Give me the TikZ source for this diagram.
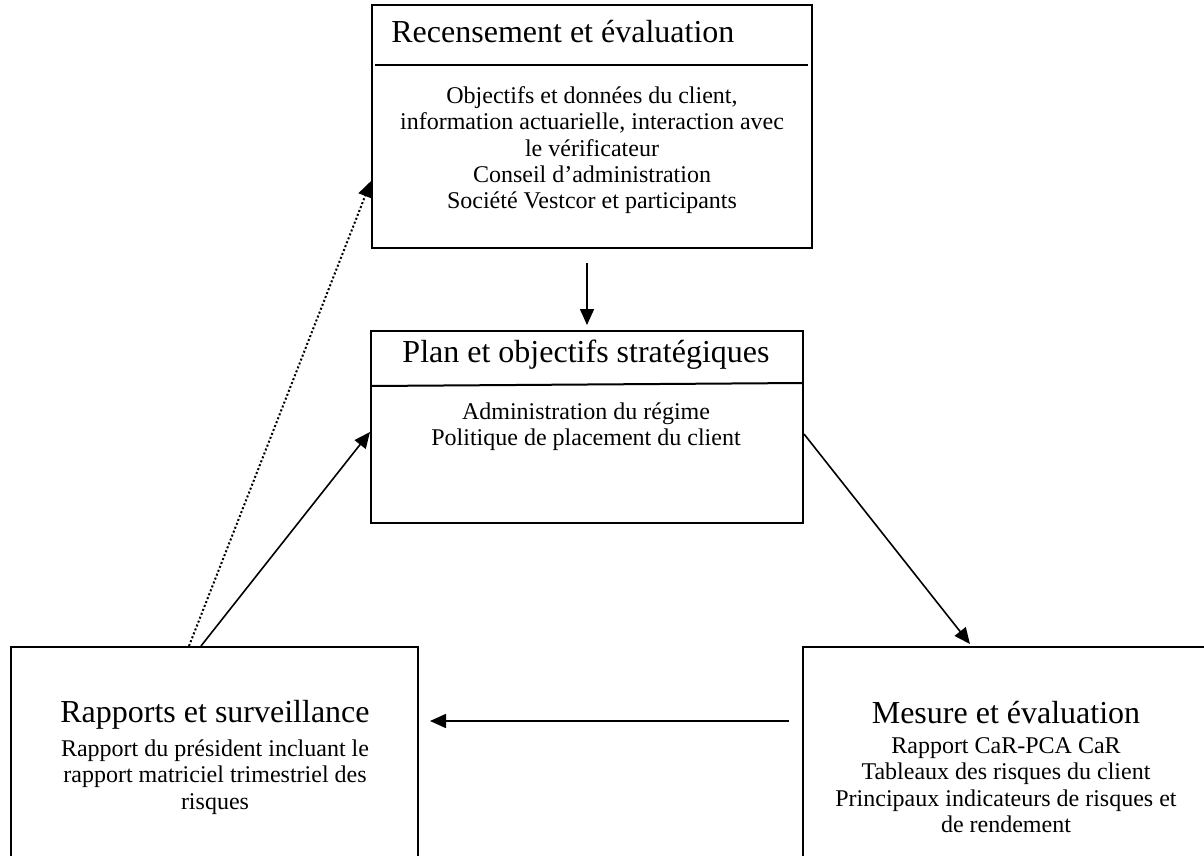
\documentclass[tikz,border=0pt]{standalone}
\usepackage{fontspec}
\setmainfont{Liberation Serif}
\usetikzlibrary{arrows.meta}
\tikzset{
  box/.style={draw=black, line width=1pt, rectangle, inner sep=0pt},
  ttl/.style={font=\fontsize{16}{18}\selectfont, inner sep=0pt},
  bdy/.style={font=\fontsize{12}{13.2}\selectfont, align=center, inner sep=0pt, anchor=north},
  arr/.style={line width=0.8pt, -{Triangle[length=8pt,width=7pt]}},
  dotarr/.style={line width=1pt, dash pattern=on 1pt off 1.1pt, -{Triangle[length=8pt,width=7pt]}}
}
\begin{document}
\begin{tikzpicture}[x=0.5pt, y=-0.5pt]
\useasboundingbox (0,0) rectangle (1204,856);
\clip (0,0) rectangle (1204,856);
% boxes
\node[box, minimum width=220pt, minimum height=121.5pt] (rec) at (592,126.5) {};
\node[box, minimum width=216pt, minimum height=96pt] (plan) at (587,427) {};
\node[box, minimum width=203.5pt, minimum height=126.5pt] (rap) at (214.5,773.5) {};
\node[box, minimum width=203.5pt, minimum height=126.5pt] (mes) at (1006.5,773.5) {};
% separators
\draw[line width=1pt] ([xshift=2pt,yshift=-30.5pt]rec.north west) -- ([xshift=-2.5pt,yshift=-30.5pt]rec.north east);
\draw[line width=1pt] ([xshift=0.5pt,yshift=-28pt]plan.north west) -- ([xshift=-0.5pt,yshift=-26.5pt]plan.north east);
% texts
\node[ttl, anchor=base west] (t1) at (391,43) {Recensement et évaluation};
\node[bdy] (b1) at (592,86) {Objectifs et données du client,\\information actuarielle, interaction avec\\le vérificateur\\Conseil d’administration\\Société Vestcor et participants};
\node[ttl, anchor=base] (t2) at (586,362) {Plan et objectifs stratégiques};
\node[bdy] (b2) at (586,402) {Administration du régime\\Politique de placement du client};
\node[ttl, anchor=base] (t3) at (215,722) {Rapports et surveillance};
\node[bdy] (b3) at (215,739.5) {Rapport du président incluant le\\rapport matriciel trimestriel des\\risques};
\node[ttl, anchor=base] (t4) at (1006,723) {Mesure et évaluation};
\node[bdy] (b4) at (1006,737) {Rapport CaR-PCA CaR\\Tableaux des risques du client\\Principaux indicateurs de risques et\\de rendement};
% connectors
\draw[arr] ([xshift=-2.5pt,yshift=-7pt]rec.south) -- ([yshift=2.5pt]plan.north);
\draw[arr] ([yshift=-3.5pt]plan.east) -- ([xshift=-18.25pt,yshift=1pt]mes.north);
\draw[arr] ([xshift=-6.5pt,yshift=-37.5pt]mes.north west) -- ([xshift=5.5pt,yshift=-37.5pt]rap.north east);
\draw[arr] ([xshift=95.5pt]rap.north west) -- ([yshift=-51pt]plan.north west);
\draw[dotarr] ([xshift=89.5pt]rap.north west) -- ([yshift=-88.5pt]rec.north west);
\end{tikzpicture}
\end{document}
